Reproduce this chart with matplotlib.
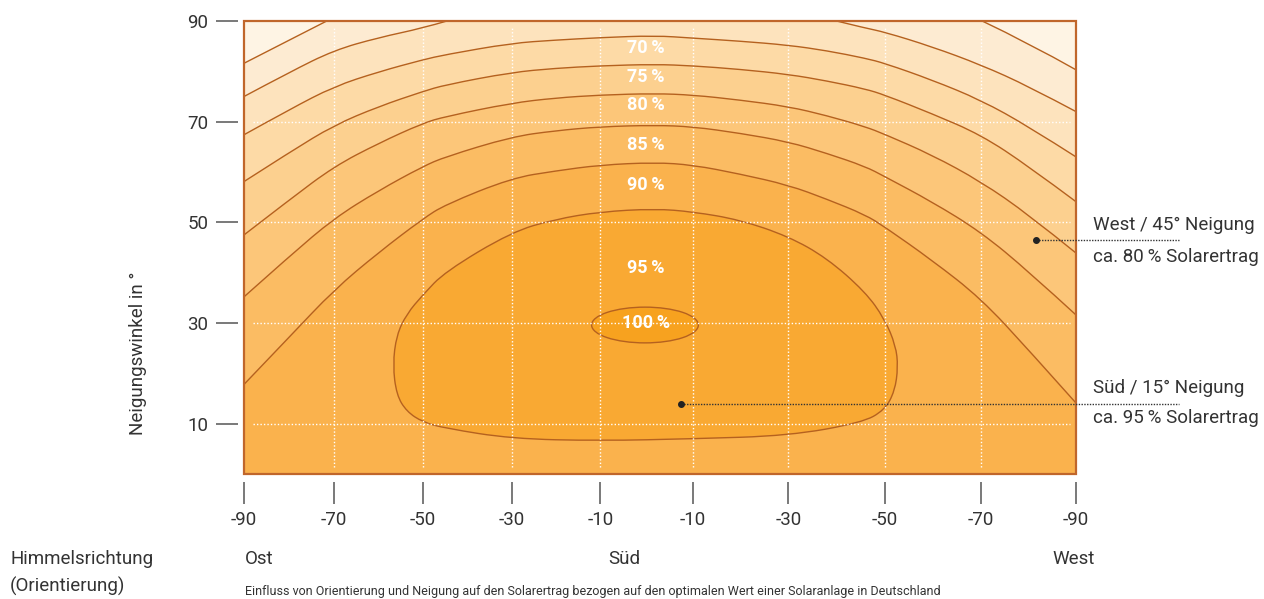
import matplotlib
matplotlib.use("Agg")
import matplotlib.pyplot as plt
from matplotlib.patches import Ellipse, Rectangle, PathPatch
from matplotlib.path import Path

plt.rcParams['font.family'] = ['Roboto', 'DejaVu Sans']

# azimuth (deg, east negative) of the columns where the open contours were read
az = [-90, -80, -70.5, -60.9, -51.3, -46.5, -32.1, -22.7, -12.9, -1.1,
      7.1, 17.3, 27.8, 36.1, 44.4, 48.6, 58.8, 69.4, 79.8, 90]

# tilt (deg) of each yield contour at those columns
tilt_90 = [17.8, 27.4, 36.6, 44.0, 50.7, 53.5, 58.8, 60.2, 61.4, 61.9,
           61.4, 59.6, 57.4, 54.6, 51.5, 49.1, 42.5, 34.9, 24.6, 14.1]
tilt_85 = [35.2, 43.4, 50.8, 56.3, 61.1, 63.0, 67.0, 68.2, 69.0, 69.3,
           69.0, 67.7, 66.0, 63.7, 61.1, 59.1, 54.1, 48.1, 40.2, 31.6]
tilt_80 = [47.5, 54.6, 61.1, 65.7, 69.7, 71.0, 73.7, 74.7, 75.3, 75.6,
           75.3, 74.3, 73.0, 71.2, 69.0, 67.5, 63.4, 58.1, 51.5, 43.9]
tilt_75 = [58.1, 64.0, 69.3, 73.0, 76.0, 77.3, 79.8, 80.6, 81.1, 81.4,
           81.1, 80.4, 79.4, 78.1, 76.5, 75.3, 71.6, 67.4, 61.1, 54.1]
tilt_70 = [67.4, 72.5, 77.0, 79.9, 82.3, 83.3, 85.6, 86.2, 86.7, 87.1,
           86.6, 86.0, 85.2, 84.1, 82.6, 81.6, 78.3, 74.3, 69.0, 63.0]

# 65 % and 60 % split into an east and a west piece
az_65_ost = [-90, -80, -70.5, -60.9, -51.3, -46.1]
tilt_65_ost = [75.0, 79.9, 84.2, 86.7, 88.6, 90]
az_65_west = [38.2, 44.4, 48.6, 58.8, 69.4, 79.8, 90]
tilt_65_west = [90, 88.6, 87.8, 84.9, 81.3, 77.0, 72.0]
az_60_ost = [-90, -80, -72.1]
tilt_60_ost = [81.6, 86.3, 90]
az_60_west = [69.7, 79.8, 90]
tilt_60_west = [90, 85.6, 80.3]

# closed 95 % contour
az_95 = [-57.8, -57.0, -54.8, -51.3, -46.5, -32.1, -22.7, -12.9, -1.1, 7.1,
         17.3, 27.8, 36.1, 44.4, 48.6, 51.0, 51.5, 50.8, 48.6, 43.7,
         27.8, 7.1, -12.9, -32.1, -46.5, -51.3, -54.8, -57.0]
tilt_95 = [21.7, 27.6, 31.8, 35.6, 40.2, 48.1, 50.6, 52.1, 52.7, 52.1,
           50.5, 47.2, 42.9, 36.2, 30.8, 25.5, 21.3, 16.5, 12.7, 10.2,
           7.6, 7.0, 6.6, 7.0, 9.1, 10.3, 12.4, 15.7]

# 100 % ellipse: centre, width, height
peak = (-3.25, 29.6)
peak_w, peak_h = 23.1, 7.1

levels = ['70', '75', '80', '85', '90', '95', '100']
level_tilt = [84.6, 78.9, 73.3, 65.4, 57.4, 40.9, 30.0]

xtick_pos = [-90, -70.5, -51.3, -32.1, -12.9, 7.1, 27.8, 48.6, 69.4, 90]
xtick_lab = ['-90', '-70', '-50', '-30', '-10', '-10', '-30', '-50', '-70', '-90']
ytick_pos = [10, 30, 50, 70, 90]

# annotated examples (azimuth, tilt)
west_pt = (81.3, 46.4)
sued_pt = (4.5, 13.9)

band = {'<60': '#fef4e4', '60': '#fdebd2', '65': '#fde3bd', '70': '#fddaa6',
        '75': '#fcd08f', '80': '#fcc679', '85': '#fbbc63', '90': '#fab24d',
        '95': '#f9a933', '100': '#f7a21f'}
line_c = '#b5611f'
txt_c = '#333333'


def smooth(xs, ys, extra=(), closed=False):
    # quadratic bezier through segment midpoints, points act as control points
    pts = list(zip(xs, ys))
    if closed:
        n = len(pts)
        mids = [((pts[i][0] + pts[(i+1) % n][0]) / 2, (pts[i][1] + pts[(i+1) % n][1]) / 2) for i in range(n)]
        verts = [mids[-1]]
        codes = [Path.MOVETO]
        for i in range(n):
            verts += [pts[i], mids[i]]
            codes += [Path.CURVE3, Path.CURVE3]
        verts.append(mids[-1])
        codes.append(Path.CLOSEPOLY)
        return Path(verts, codes)
    verts = [pts[0]]
    codes = [Path.MOVETO]
    for i in range(1, len(pts) - 1):
        m = ((pts[i][0] + pts[i+1][0]) / 2, (pts[i][1] + pts[i+1][1]) / 2)
        if i == len(pts) - 2:
            m = pts[-1]
        verts += [pts[i], m]
        codes += [Path.CURVE3, Path.CURVE3]
    if len(pts) == 2:
        verts.append(pts[1])
        codes.append(Path.LINETO)
    for e in extra:
        verts.append(e)
        codes.append(Path.LINETO)
    if extra:
        verts.append(pts[0])
        codes.append(Path.CLOSEPOLY)
    return Path(verts, codes)


fig = plt.figure(figsize=(12.64, 5.99), dpi=100)
ax = fig.add_axes([244/1264, 1-474/599, 832/1264, 453/599])
ax.set_xlim(-90, 90)
ax.set_ylim(0, 90)
ax.set_facecolor(band['90'])

# nested fills, from the lowest line upwards
open_lines = [(az, tilt_90, '85', [(90, 90), (-90, 90)]),
              (az, tilt_85, '80', [(90, 90), (-90, 90)]),
              (az, tilt_80, '75', [(90, 90), (-90, 90)]),
              (az, tilt_75, '70', [(90, 90), (-90, 90)]),
              (az, tilt_70, '65', [(90, 90), (-90, 90)]),
              (az_65_ost, tilt_65_ost, '60', [(-90, 90)]),
              (az_65_west, tilt_65_west, '60', [(90, 90)]),
              (az_60_ost, tilt_60_ost, '<60', [(-90, 90)]),
              (az_60_west, tilt_60_west, '<60', [(90, 90)])]
for a, t, c, corners in open_lines:
    ax.add_patch(PathPatch(smooth(a, t, corners), facecolor=band[c], lw=0, zorder=1))
    ax.add_patch(PathPatch(smooth(a, t), fill=False, edgecolor=line_c, lw=1, zorder=5))

ax.add_patch(PathPatch(smooth(az_95, tilt_95, closed=True), facecolor=band['95'],
                       edgecolor=line_c, lw=1, zorder=2))
ax.add_patch(Ellipse(peak, peak_w, peak_h, facecolor=band['100'], edgecolor=line_c, lw=1, zorder=3))

# white dotted grid
for x in xtick_pos[1:-1]:
    ax.plot([x, x], [1.4, 88.6], color='white', lw=1, ls=(0, (1, 1.5)), zorder=4)
for y in ytick_pos[:-1]:
    ax.plot([-88.1, 88.7], [y, y], color='white', lw=1, ls=(0, (1, 1.5)), zorder=4)

for lab, y in zip(levels, level_tilt):
    ax.text(-3.0, y, lab + '\u2009%', ha='center', va='center', color='white',
            fontsize=13, fontweight='bold', zorder=6)

# frame + detached ticks
for s in ax.spines.values():
    s.set_visible(False)
ax.spines['left'].set_position(('outward', 4.3))
ax.spines['bottom'].set_position(('outward', 6))
ax.add_patch(Rectangle((0, 0), 1, 1, transform=ax.transAxes, fill=False,
                       edgecolor='#c0662b', lw=1.6, zorder=7, clip_on=False))
ax.set_xticks(xtick_pos)
ax.set_xticklabels(xtick_lab)
ax.set_yticks(ytick_pos)
ax.tick_params(length=15.8, width=1.1, color='#555555', labelsize=13.5,
               labelcolor=txt_c)
ax.tick_params(axis='y', pad=5.5)
ax.tick_params(axis='x', pad=4.5)

# annotations
for pt in [west_pt, sued_pt]:
    ax.plot([pt[0], 112.3], [pt[1], pt[1]], color='#333333', lw=1,
            ls=(0, (1, 1)), zorder=8, clip_on=False)
    ax.plot(pt[0], pt[1], 'o', ms=4, color='#222222', zorder=9)


def ftext(x, y, s, size=13.5, **kw):
    fig.text(x/1264, 1-y/599, s, color=txt_c, fontsize=size, **kw)


ftext(1093, 225, 'West / 45° Neigung', va='center')
ftext(1093, 257, 'ca. 80\u2009% Solarertrag', va='center')
ftext(1093, 388, 'Süd / 15° Neigung', va='center')
ftext(1093, 418, 'ca. 95\u2009% Solarertrag', va='center')

ftext(138, 353, 'Neigungswinkel in °', rotation=90, ha='center', va='center')
ftext(10, 559, 'Himmelsrichtung', va='center')
ftext(10, 586, '(Orientierung)', va='center')
ftext(245, 559, 'Ost', va='center')
ftext(624, 559, 'Süd', ha='center', va='center')
ftext(1074, 559, 'West', ha='center', va='center')
ftext(245, 598, 'Einfluss von Orientierung und Neigung auf den Solarertrag bezogen auf den optimalen Wert einer Solaranlage in Deutschland',
      size=9, va='bottom')

fig.savefig('out.png', dpi=100)
